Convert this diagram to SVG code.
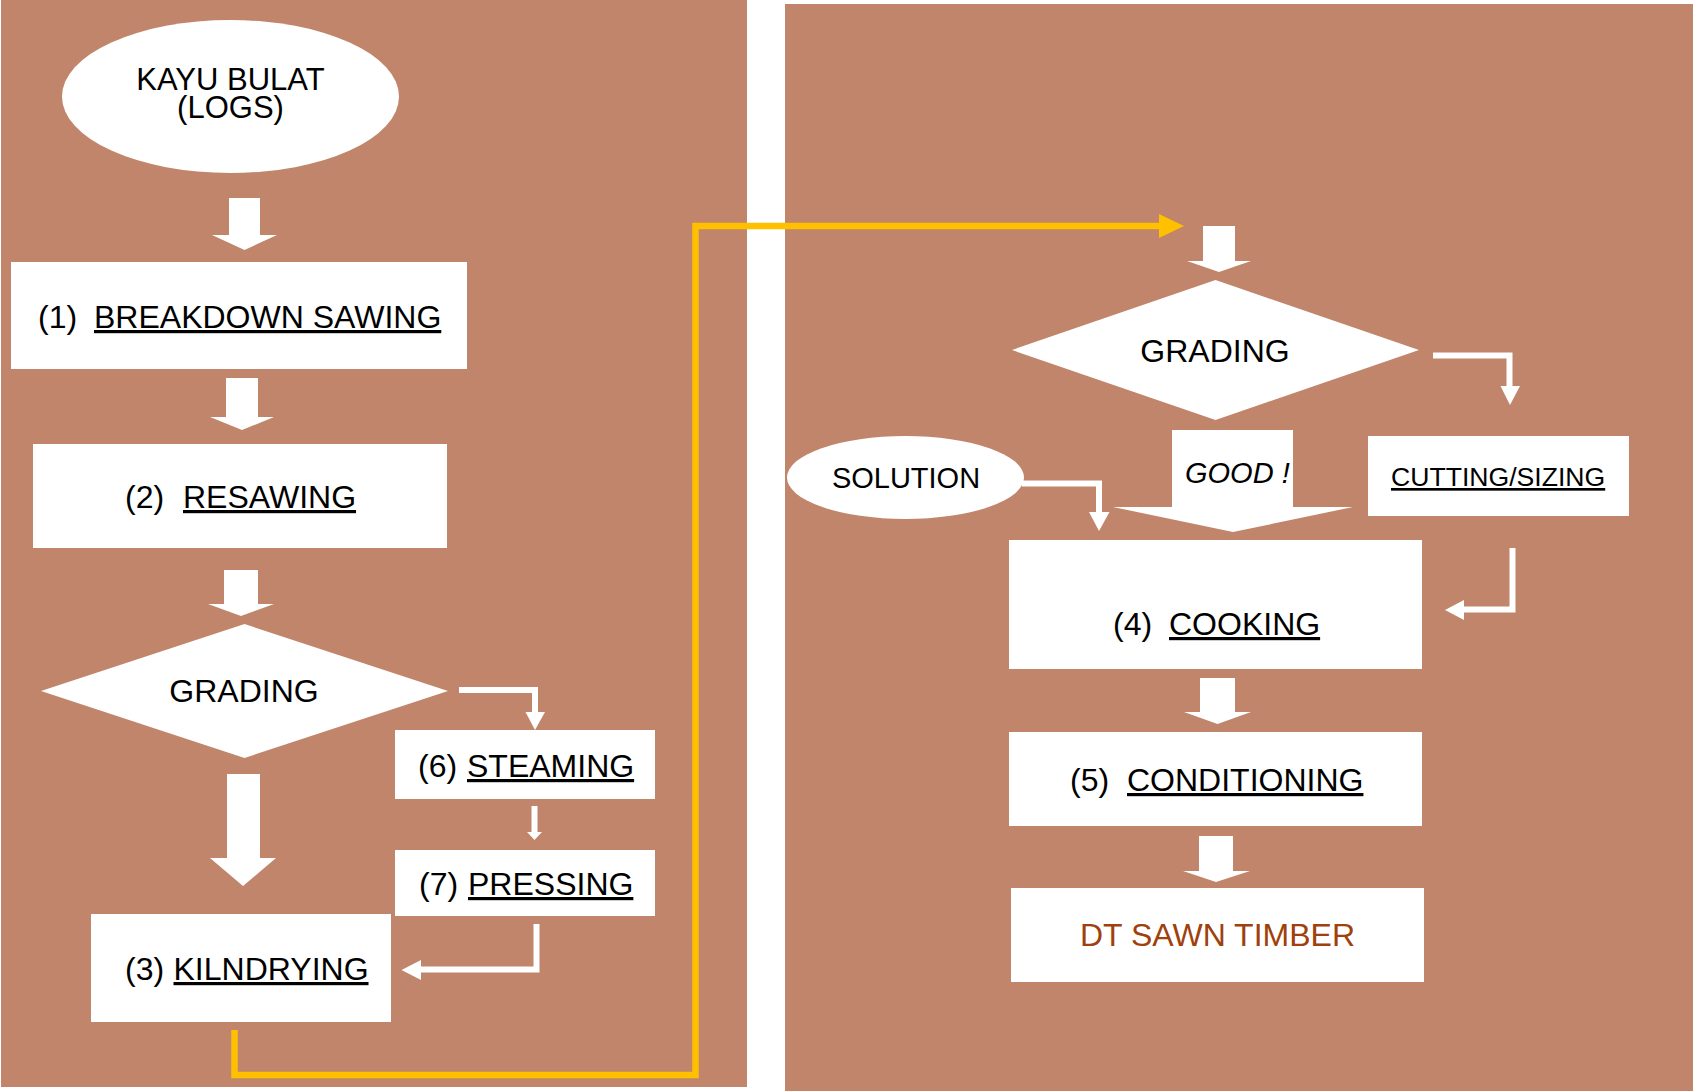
<svg xmlns="http://www.w3.org/2000/svg" width="1693" height="1091" viewBox="0 0 1693 1091">
<style>
  .bg { fill: #C0856A; }
  .node { fill: #FFFFFF; }
  .t { font-family: "Liberation Sans", Arial, sans-serif; font-size: 32px; fill: #000000; }
  .u { text-decoration: underline; }
  .wline { fill: none; stroke: #FFFFFF; stroke-width: 6; stroke-linejoin: miter; }
  .whead { fill: #FFFFFF; }
  .yline { fill: none; stroke: #FFC000; stroke-width: 6.5; stroke-linejoin: miter; }
  .yhead { fill: #FFC000; }
</style>
<rect x="0" y="0" width="1693" height="1091" fill="#FFFFFF"/>
<rect class="bg" x="1" y="0" width="746" height="1087"/>
<rect class="bg" x="785" y="4" width="908" height="1087"/>

<g id="connectors">
  <!-- block arrows -->
  <polygon class="whead" points="229,198 260,198 260,235 277,235 244.5,250 212,235 229,235"/>
  <polygon class="whead" points="226,378 258,378 258,417 274,417 242,430 210,417 226,417"/>
  <polygon class="whead" points="224,570 258,570 258,604 274,604 241,616 208,604 224,604"/>
  <polygon class="whead" points="227,774 260,774 260,858 276,858 243,886 210,858 227,858"/>
  <polygon class="whead" points="1203,226 1235,226 1235,261 1251,261 1219,272 1187,261 1203,261"/>
  <polygon class="whead" points="1200,678 1235,678 1235,712 1251,712 1217.5,724 1184,712 1200,712"/>
  <polygon class="whead" points="1199,836 1233,836 1233,871 1250,871 1216,882 1183,871 1199,871"/>
  <!-- GOOD! arrow -->
  <g id="good-arrow">
    <polygon class="whead" points="1172,430 1293,430 1293,507 1353,507 1233,532 1113,507 1172,507"/>
    <text class="t" x="1185" y="483" style="font-size:29px;font-style:italic">GOOD !</text>
  </g>
  <!-- thin bent arrows -->
  <path class="wline" d="M459,690 H535 V713"/>
  <polygon class="whead" points="525.5,712 545,712 535,730"/>
  <path class="wline" d="M534.5,806 V833"/>
  <polygon class="whead" points="527,832 542,832 534.5,840"/>
  <path class="wline" d="M536.5,924 V969.5 H420"/>
  <polygon class="whead" points="421,960 421,980 401.5,970"/>
  <path class="wline" d="M1433,355.5 H1509.5 V387"/>
  <polygon class="whead" points="1500.5,386 1520,386 1510,405"/>
  <path class="wline" d="M1022,483.5 H1099 V513"/>
  <polygon class="whead" points="1089,512 1109.5,512 1099,531"/>
  <path class="wline" d="M1512.5,548 V609.5 H1463"/>
  <polygon class="whead" points="1464,600 1464,620 1445,610"/>
  <!-- yellow connector -->
  <path class="yline" d="M234.5,1030 V1075 H695.5 V226 H1160"/>
  <polygon class="yhead" points="1159,214 1159,238 1184,226"/>
</g>

<g id="logs">
  <ellipse class="node" cx="230.5" cy="96.5" rx="168.5" ry="76.5"/>
  <text class="t" text-anchor="middle" style="font-size:31px"><tspan x="230.5" y="90">KAYU BULAT</tspan><tspan x="230.5" y="118">(LOGS)</tspan></text>
</g>

<g id="breakdown-sawing">
  <rect class="node" x="11" y="262" width="456" height="107"/>
  <text class="t" x="38" y="328">(1)<tspan class="u" x="94">BREAKDOWN SAWING</tspan></text>
</g>

<g id="resawing">
  <rect class="node" x="33" y="444" width="414" height="104"/>
  <text class="t" x="125" y="508">(2)<tspan class="u" x="183">RESAWING</tspan></text>
</g>

<g id="grading-left">
  <polygon class="node" points="244.5,624 448,691 244.5,758 41,691"/>
  <text class="t" x="244" y="702" text-anchor="middle">GRADING</text>
</g>

<g id="steaming">
  <rect class="node" x="395" y="730" width="260" height="69"/>
  <text class="t" x="418" y="777">(6)<tspan class="u" x="467">STEAMING</tspan></text>
</g>

<g id="pressing">
  <rect class="node" x="395" y="850" width="260" height="66"/>
  <text class="t" x="419" y="895">(7)<tspan class="u" x="468">PRESSING</tspan></text>
</g>

<g id="kilndrying">
  <rect class="node" x="91" y="914" width="300" height="108"/>
  <text class="t" x="125" y="980">(3)<tspan class="u" x="173.5">KILNDRYING</tspan></text>
</g>

<g id="grading-right">
  <polygon class="node" points="1215.5,280 1419,350 1215.5,420 1012,350"/>
  <text class="t" x="1215" y="362" text-anchor="middle">GRADING</text>
</g>

<g id="solution">
  <ellipse class="node" cx="905.5" cy="477.5" rx="118.5" ry="41.5"/>
  <text class="t" x="906" y="488" text-anchor="middle" style="font-size:29px">SOLUTION</text>
</g>

<g id="cutting-sizing">
  <rect class="node" x="1368" y="436" width="261" height="80"/>
  <text class="t u" x="1391" y="486" style="font-size:26.6px">CUTTING/SIZING</text>
</g>

<g id="cooking">
  <rect class="node" x="1009" y="540" width="413" height="129"/>
  <text class="t" x="1113" y="635">(4)<tspan class="u" x="1169">COOKING</tspan></text>
</g>

<g id="conditioning">
  <rect class="node" x="1009" y="732" width="413" height="94"/>
  <text class="t" x="1070" y="791">(5)<tspan class="u" x="1127">CONDITIONING</tspan></text>
</g>

<g id="dt-sawn-timber">
  <rect class="node" x="1011" y="888" width="413" height="94"/>
  <text class="t" x="1217.5" y="946" text-anchor="middle" style="fill:#A0400C">DT SAWN TIMBER</text>
</g>
</svg>
